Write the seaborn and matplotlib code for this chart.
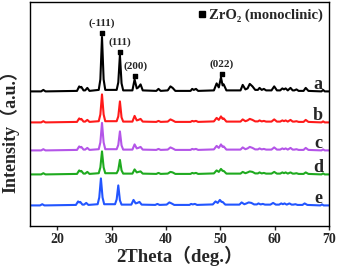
import numpy as np
import pandas as pd
import matplotlib
matplotlib.use("Agg")
import matplotlib.pyplot as plt
from matplotlib.lines import Line2D
import seaborn as sns

# peak vertices (2theta) shared by samples a-d
x_ad = [15.0, 17.0, 17.4, 17.8, 23.6, 24.0, 24.2, 24.4, 24.8, 25.1, 25.5, 25.9,
        27.6, 27.9, 28.2, 28.5, 28.8, 30.9, 31.2, 31.5, 31.8, 32.1,
        33.8, 34.2, 34.6, 34.9, 35.3, 35.7, 38.2, 38.6, 39.0, 40.3, 40.8, 41.2, 41.7,
        44.5, 44.8, 45.1, 45.5, 45.9, 48.8, 49.3, 49.7, 50.1, 50.4, 50.6, 51.1,
        53.7, 54.1, 54.6, 55.0, 55.4, 55.9, 56.4, 56.9, 57.2, 57.6, 58.0, 58.4,
        59.4, 59.9, 60.4, 61.0, 61.4, 61.7, 62.0, 62.4, 62.9, 63.3, 63.6, 64.0, 64.4,
        65.3, 65.7, 66.2, 68.6, 68.9, 69.2, 70.0]
# sample e is shifted slightly to lower angle
x_e = [15.0, 16.8, 17.2, 17.6, 23.4, 23.8, 24.0, 24.2, 24.6, 24.9, 25.3, 25.7,
       27.4, 27.7, 28.0, 28.3, 28.6, 30.6, 30.9, 31.2, 31.5, 31.8,
       33.6, 34.0, 34.4, 34.7, 35.1, 35.5, 38.0, 38.4, 38.8, 40.1, 40.6, 41.0, 41.5,
       44.3, 44.6, 44.9, 45.3, 45.7, 48.6, 49.1, 49.5, 49.9, 50.2, 50.4, 50.9,
       53.5, 53.9, 54.4, 54.8, 55.2, 55.7, 56.2, 56.7, 57.0, 57.4, 57.8, 58.2,
       59.2, 59.7, 60.2, 60.8, 61.2, 61.5, 61.8, 62.2, 62.7, 63.1, 63.4, 63.8, 64.2,
       65.1, 65.5, 66.0, 68.4, 68.7, 69.0, 70.0]

int_a = [0, 0, 1.5, 0, 0.5, 5, 4, 4.5, 1, 1, 3.5, 0.5,
         1.5, 12, 54.5, 12, 1.5, 1.5, 9, 36.5, 8, 1,
         1, 12, 3, 4, 7, 1, 0.5, 2.5, 0.5, 1, 5, 3.5, 0.5,
         0.5, 2.5, 1.5, 2.5, 0.5, 1, 8, 4, 14, 6, 7, 1,
         1, 6.5, 2, 3, 7.5, 5, 1.5, 1.5, 3.5, 1.5, 2.5, 1,
         1, 5, 1, 1, 3, 2, 3, 1, 3.5, 1, 1, 2, 0.5,
         0.5, 3.5, 0.5, 0, 1.5, 0, 0]
int_b = [0, 0, 1.2, 0, 0.5, 4, 3, 3.5, 0.8, 0.8, 2.5, 0.5,
         1.2, 8, 28, 8, 1.2, 1.2, 6, 21, 5, 0.8,
         0.8, 6.5, 2, 2.5, 3.5, 0.8, 0.5, 1.5, 0.5, 0.8, 3, 2, 0.5,
         0.5, 1.5, 1, 1.5, 0.5, 1, 4.5, 2.5, 6, 3.5, 4, 0.8,
         0.8, 3, 1.2, 2, 3.5, 2.5, 1, 1, 2, 1, 1.5, 0.8,
         0.8, 3, 0.8, 0.8, 2, 1.2, 2, 0.8, 2.5, 0.8, 0.8, 1.2, 0.5,
         0.5, 2.5, 0.5, 0, 1, 0, 0]
int_c = [0, 0, 1.2, 0, 0.5, 4, 3, 3.5, 0.8, 0.8, 2.5, 0.5,
         1.2, 8, 27.5, 8, 1.2, 1.2, 5.5, 19, 5, 0.8,
         0.8, 6, 2, 2.5, 3.5, 0.8, 0.5, 1.5, 0.5, 0.8, 3, 2, 0.5,
         0.5, 1.5, 1, 1.5, 0.5, 1, 4.5, 2.5, 6, 3.5, 4, 0.8,
         0.8, 3, 1.2, 2, 3.5, 2.5, 1, 1, 2, 1, 1.5, 0.8,
         0.8, 3, 0.8, 0.8, 2, 1.2, 2, 0.8, 2.5, 0.8, 0.8, 1.2, 0.5,
         0.5, 2.5, 0.5, 0, 1, 0, 0]
int_d = [0, 0, 1.2, 0, 0.5, 4, 3, 3.5, 0.8, 0.8, 2.5, 0.5,
         1.2, 7, 23, 7, 1.2, 1.2, 4.5, 14.5, 4, 0.8,
         0.8, 5, 2, 2.5, 3, 0.8, 0.5, 1.5, 0.5, 0.8, 2.5, 2, 0.5,
         0.5, 1.5, 1, 1.5, 0.5, 1, 4, 2.5, 5.5, 3.5, 3.5, 0.8,
         0.8, 2.5, 1.2, 2, 3, 2.5, 1, 1, 2, 1, 1.5, 0.8,
         0.8, 2.5, 0.8, 0.8, 2, 1.2, 2, 0.8, 2, 0.8, 0.8, 1.2, 0.5,
         0.5, 2, 0.5, 0, 1, 0, 0]
int_e = [0, 0, 1.2, 0, 0.5, 4, 3, 3.5, 0.8, 0.8, 2.5, 0.5,
         1.2, 8, 27, 8, 1.2, 1.2, 6, 20, 5, 0.8,
         0.8, 5.5, 2, 2.5, 3.5, 0.8, 0.5, 1.5, 0.5, 0.8, 3, 2, 0.5,
         0.5, 1.5, 1, 1.5, 0.5, 1, 4, 2.5, 5.5, 3.5, 3.5, 0.8,
         0.8, 3, 1.2, 2, 3, 2.5, 1, 1, 2, 1, 1.5, 0.8,
         0.8, 2.5, 0.8, 0.8, 2, 1.2, 2, 0.8, 2, 0.8, 0.8, 1.2, 0.5,
         0.5, 2, 0.5, 0, 1, 0, 0]

samples = ["a", "b", "c", "d", "e"]
offsets = [134.5, 103.5, 75.5, 51.5, 20.5]
colors = ["#000000", "#ff1a1a", "#b455e8", "#1faa1f", "#2255ff"]

hkl_labels = ["(-111)", "(111)", "(200)", "(022)"]
hkl_x = [28.2, 31.5, 34.3, 50.2]
hkl_marker_y = [192.7, 174.3, 150.3, 152.0]

frames = []
for s, xs, ys, off in zip(samples, [x_ad, x_ad, x_ad, x_ad, x_e],
                          [int_a, int_b, int_c, int_d, int_e], offsets):
    frames.append(pd.DataFrame({"two_theta": xs,
                                "intensity": np.array(ys) + off,
                                "sample": s}))
df = pd.concat(frames, ignore_index=True)

sns.set_style("ticks")
plt.rcParams["font.family"] = ["Liberation Serif", "DejaVu Serif"]
plt.rcParams["font.weight"] = "bold"

fig = plt.figure(figsize=(3.38, 2.68), dpi=100)
ax = fig.add_axes([0.0896, 0.157, 0.884, 0.836])

sns.lineplot(data=df, x="two_theta", y="intensity", hue="sample",
             palette=dict(zip(samples, colors)), estimator=None, sort=False,
             linewidth=1.5, legend=False, ax=ax)

ax.set_xlim(15, 70)
ax.set_ylim(0, 224)
ax.set_xticks([20, 30, 40, 50, 60, 70])
ax.set_yticks([])
ax.tick_params(axis="x", direction="out", length=3, width=1, labelsize=10, pad=2)
for lab in ax.get_xticklabels():
    lab.set_fontweight("bold")
for sp in ax.spines.values():
    sp.set_linewidth(1.0)
    sp.set_color("black")

# sample labels
for s, off in zip(samples, offsets):
    ax.text(68.0, off + 7, s, fontsize=13, fontweight="bold",
            ha="center", va="center")

# reflection markers
ax.scatter(hkl_x, hkl_marker_y, marker="s", s=12, color="black", zorder=5)
for lab, x, y in zip(hkl_labels, hkl_x, hkl_marker_y):
    ax.text(x, y + 5, lab, fontsize=8, fontweight="bold", ha="center", va="bottom")

handle = Line2D([], [], marker="s", color="black", linestyle="none", markersize=4)
ax.legend([handle], ["ZrO\u2082 (monoclinic)"], loc="upper right", frameon=False,
          handlelength=0.5, handletextpad=0.2, borderaxespad=0.05,
          prop={"size": 10.5, "weight": "bold", "family": ["Liberation Serif", "DejaVu Serif"]})

cjk = ["Liberation Serif", "Noto Sans CJK SC"]
ax.set_xlabel("2Theta\uff08deg.\uff09", fontsize=13.5, fontweight="bold", family=cjk, labelpad=0)
ax.set_ylabel("Intensity\uff08a.u.\uff09", fontsize=13, fontweight="bold", family=cjk)
ax.yaxis.set_label_coords(-0.036, 0.44)

fig.savefig("out.png", dpi=100)
